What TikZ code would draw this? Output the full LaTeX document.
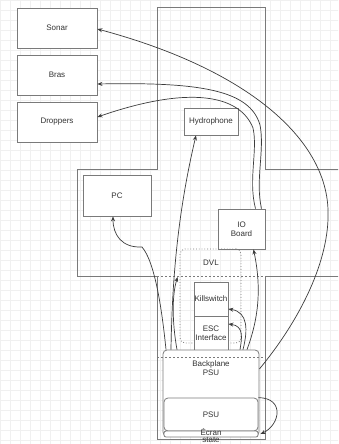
\documentclass[tikz,border=0pt]{standalone}
\usepackage{fontspec}
\setmainfont{Liberation Sans}
\usetikzlibrary{arrows.meta}
\definecolor{gridc}{HTML}{F0F0F0}
\definecolor{boxc}{HTML}{7A7A7A}
\definecolor{linec}{HTML}{3C3C3C}
\definecolor{txtc}{HTML}{333333}
\begin{document}
\begin{tikzpicture}[x=1pt,y=-1pt,
  box/.style={draw=boxc, line width=0.8pt, fill=white, text=txtc, inner sep=0pt,
    font=\fontsize{8}{9}\selectfont, align=center},
  rbox/.style={box, rounded corners=4pt},
  dotbox/.style={draw=boxc, line width=0.8pt, dotted, rounded corners=5pt, inner sep=0pt},
  crossline/.style={draw=boxc, line width=0.8pt},
  dashline/.style={draw=boxc, line width=0.7pt, dashed, dash pattern=on 2pt off 2pt},
  conn/.style={draw=linec, line width=0.7pt, -{Stealth[length=5pt,width=4pt]}},
  lbl/.style={text=txtc, inner sep=0pt, font=\fontsize{8}{9}\selectfont, align=center}]
\useasboundingbox (0,0) rectangle (338,444);
\clip (0,0) rectangle (338,444);
\fill[white] (0,0) rectangle (338,444);
\draw[gridc, line width=0.4pt] (0,0) grid[step=10pt] (340,450);
% cross outline
\draw[crossline] (345,169) -- (265,169) -- (265,7) -- (157,7) -- (157,169) -- (77,169)
  -- (77,276) -- (157,276) -- (157,439) -- (265,439) -- (265,276) -- (345,276);
% boxes
\node[box, minimum width=80pt, minimum height=40pt] (sonar) at (57,28) {Sonar};
\node[box, minimum width=80pt, minimum height=40pt] (bras) at (57,75) {Bras};
\node[box, minimum width=80pt, minimum height=40pt] (droppers) at (57,122) {Droppers};
\node[box, minimum width=54pt, minimum height=27pt] (hydro) at (211,121.5) {Hydrophone};
\node[box, minimum width=68pt, minimum height=41pt] (pc) at (117,195.5) {PC};
\node[box, minimum width=47pt, minimum height=40pt] (io) at (241.5,229) {IO\\Board};
\node[dotbox, minimum width=61pt, minimum height=94pt] (dvl) at (210.5,296) {};
\node[lbl] (dvllbl) at (211,263) {DVL};
\node[box, minimum width=34pt, minimum height=34pt] (kill) at (211,299) {Killswitch};
\node[box, minimum width=34pt, minimum height=34pt] (esc) at (211,333) {ESC\\Interface};
\node[rbox, minimum width=96pt, minimum height=86pt] (bp) at (211,393) {};
\node[lbl] (bplbl) at (211,368.5) {Backplane\\PSU};
\node[rbox, minimum width=94pt, minimum height=33pt] (psu) at (211,414.5) {PSU};
\node[rbox, rounded corners=2pt, minimum width=94pt, minimum height=6pt] (ecran) at (211,434) {};
\node[lbl, font=\fontsize{8}{7}\selectfont] (ecranlbl) at (211,435.5) {Écran\\state};
\draw[dashline] (157,276) -- (265,276);
\draw[dashline] (157,357) -- (265,357);
% connectors
\draw[conn] ([yshift=24pt]bp.east) .. controls (300,320) and (330,260) .. (328,210)
  .. controls (326,140) and (250,70) .. ([yshift=-1pt]sonar.east);
\draw[conn] ([xshift=20pt]io.north) .. controls (255,180) and (265,150) .. (260,125)
  .. controls (250,90) and (200,82) .. ([yshift=-9pt]bras.east);
\draw[conn] ([xshift=14pt]io.north) .. controls (248,180) and (258,150) .. (253,128)
  .. controls (240,95) and (190,85) .. ([yshift=5pt]droppers.east);
\draw[conn] ([xshift=-40pt]bp.north) .. controls (172,290) and (176,220) .. ([xshift=-15pt]hydro.south);
\draw[conn] ([xshift=-45pt]bp.north) .. controls (162,310) and (155,262) .. (142,247)
  .. controls (122,248) and (113,235) .. ([xshift=-4pt]pc.south);
\draw[conn] ([xshift=-34pt]bp.north) .. controls (172,322) and (172,295) .. ([xshift=-2pt, yshift=19pt]dvl.west);
\draw[conn] ([xshift=36pt]bp.north) .. controls (258,320) and (262,290) .. ([xshift=12pt]io.south);
\draw[conn] ([xshift=32pt]bp.north) .. controls (248,330) and (248,312) .. ([yshift=-10pt]kill.east);
\draw[conn] ([xshift=29pt]bp.north) .. controls (242,338) and (244,326) .. ([yshift=9pt]esc.east);
\draw[conn] (psu.north east) .. controls (285,398) and (280,425) .. ([xshift=2pt]ecran.east);
\end{tikzpicture}
\end{document}
